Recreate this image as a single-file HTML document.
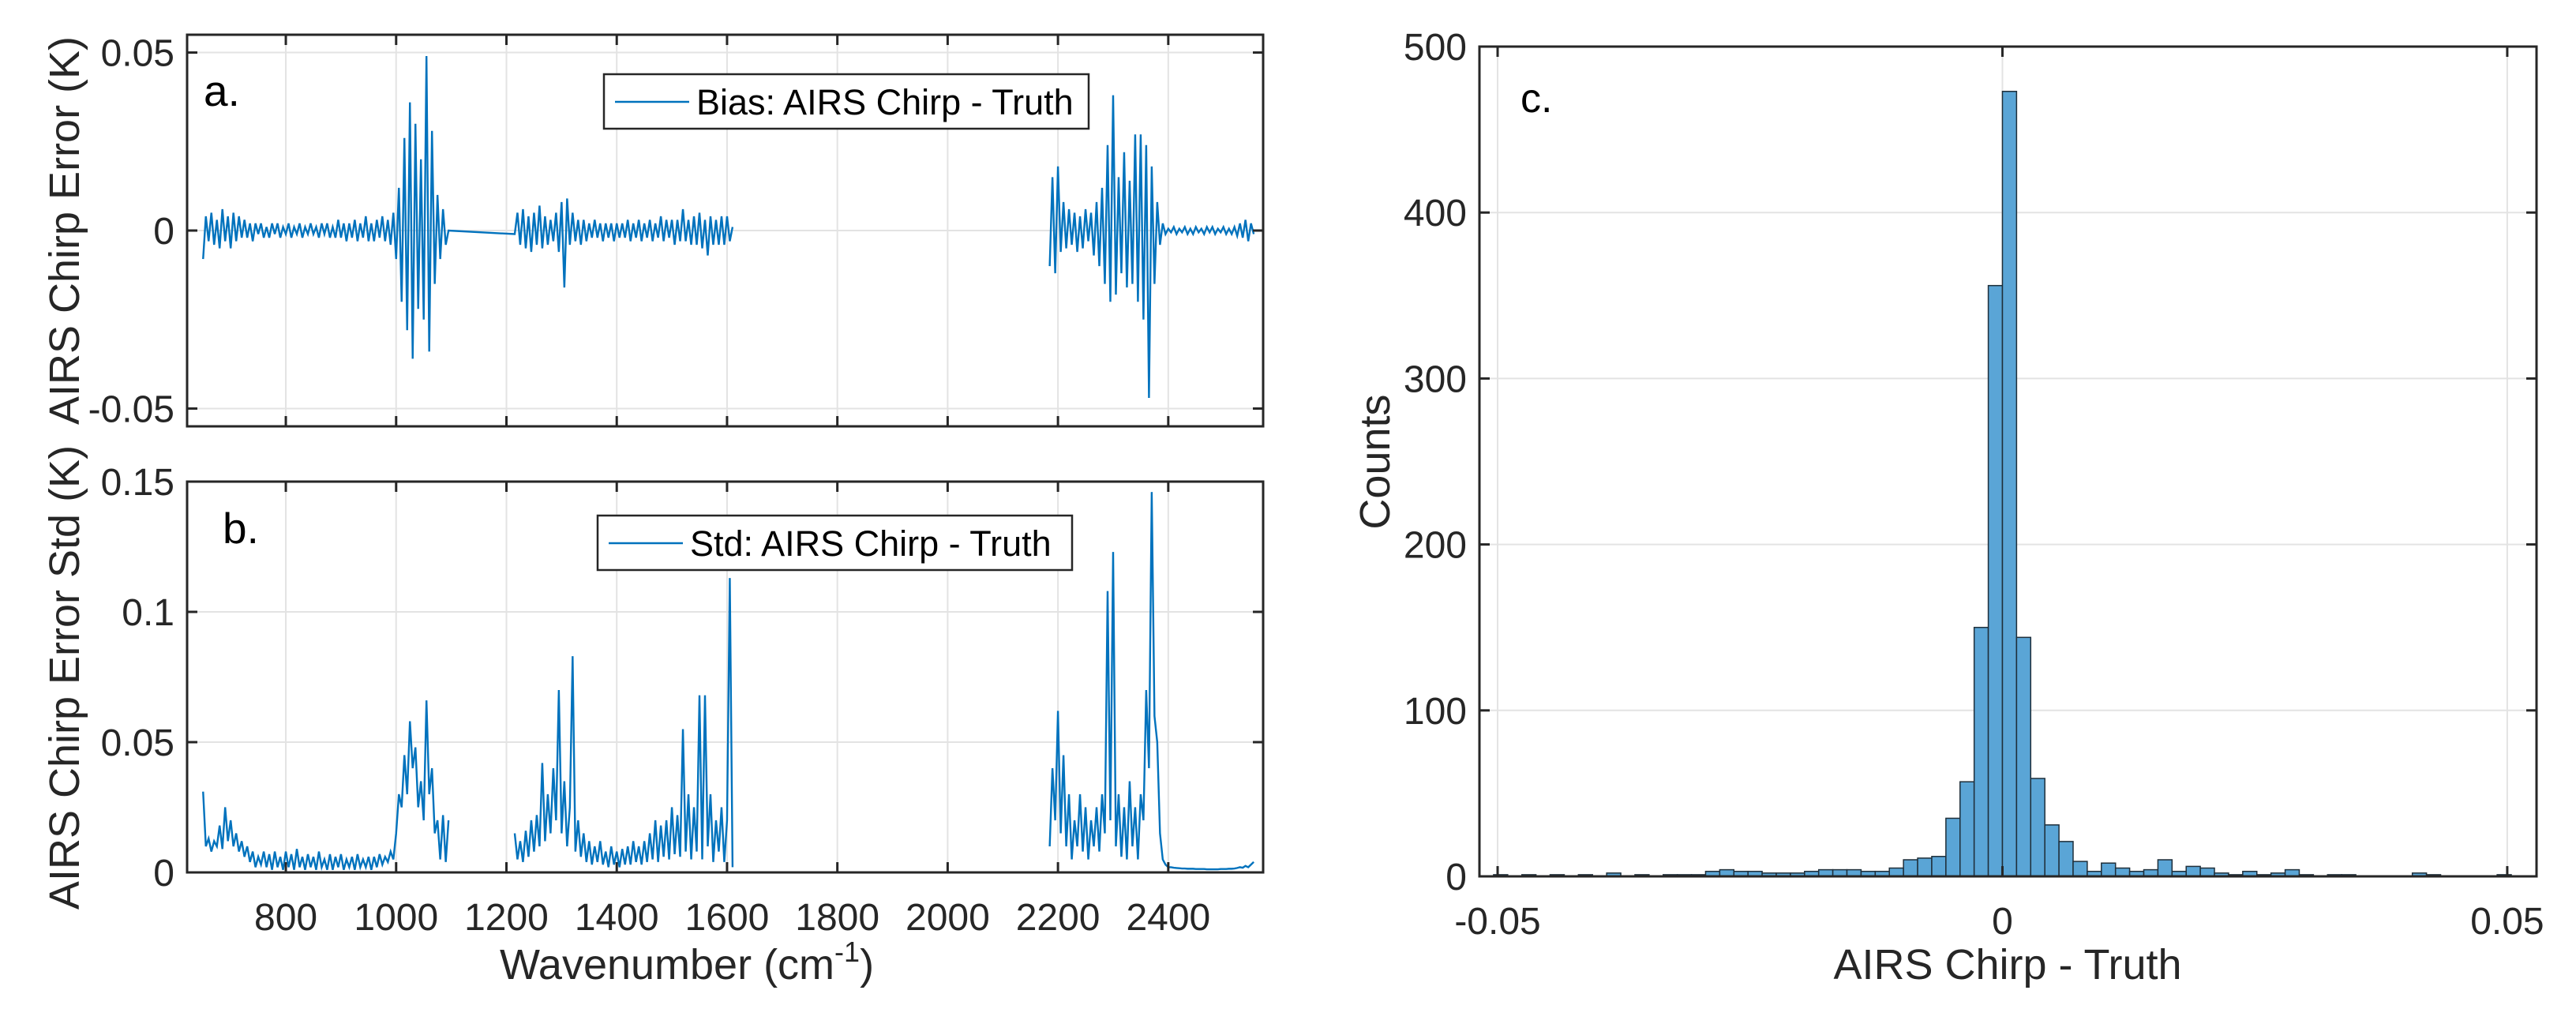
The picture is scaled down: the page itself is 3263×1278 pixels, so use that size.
<!DOCTYPE html>
<html><head><meta charset="utf-8"><style>
html,body{margin:0;padding:0;background:#fff;}
svg{display:block;font-family:"Liberation Sans",Arial,sans-serif;}
</style></head><body>
<svg id="fig" width="3263" height="1278" viewBox="0 0 3263 1278" xmlns="http://www.w3.org/2000/svg"></svg>
<script>
// ---------- DATA ----------
const wnStart1 = 650, wnStart2 = 1215, wnStart3 = 2185, wnStep = 5;
const bias1 = [-0.008,0.004,-0.003,0.005,-0.004,0.003,-0.005,0.006,-0.003,0.004,-0.005,0.005,-0.003,0.004,-0.002,0.003,-0.002,0.002,-0.003,0.002,-0.001,0.002,-0.002,0.001,-0.002,0.002,-0.001,0.002,-0.002,0.001,-0.001,0.002,-0.002,0.001,-0.001,0.002,-0.002,0.001,-0.001,0.002,-0.001,0.001,-0.002,0.002,-0.001,0.002,-0.002,0.001,-0.002,0.003,-0.002,0.002,-0.003,0.002,-0.002,0.003,-0.003,0.002,-0.002,0.004,-0.003,0.002,-0.003,0.003,-0.002,0.004,-0.003,0.003,-0.004,0.005,-0.008,0.012,-0.02,0.026,-0.028,0.036,-0.036,0.03,-0.022,0.02,-0.025,0.049,-0.034,0.028,-0.015,0.01,-0.008,0.006,-0.004,0.0];
const bias2 = [-0.001,0.005,-0.004,0.006,-0.005,0.004,-0.006,0.005,-0.004,0.007,-0.005,0.004,-0.004,0.003,-0.003,0.005,-0.006,0.008,-0.016,0.009,-0.004,0.005,-0.003,0.003,-0.004,0.003,-0.003,0.002,-0.002,0.003,-0.002,0.002,-0.003,0.002,-0.002,0.002,-0.003,0.002,-0.002,0.002,-0.002,0.003,-0.003,0.002,-0.002,0.003,-0.003,0.002,-0.002,0.003,-0.003,0.002,-0.002,0.004,-0.003,0.003,-0.002,0.003,-0.004,0.003,-0.003,0.006,-0.003,0.003,-0.004,0.004,-0.004,0.005,-0.005,0.003,-0.007,0.004,-0.004,0.003,-0.004,0.004,-0.004,0.004,-0.003,0.001];
const bias3 = [-0.01,0.015,-0.012,0.018,-0.006,0.008,-0.005,0.006,-0.004,0.005,-0.006,0.004,-0.005,0.006,-0.003,0.005,-0.007,0.008,-0.01,0.012,-0.015,0.024,-0.02,0.038,-0.018,0.015,-0.012,0.022,-0.016,0.014,-0.015,0.027,-0.02,0.027,-0.025,0.024,-0.047,0.018,-0.015,0.008,-0.004,0.002,-0.001,0.0005,-0.0005,0.001,-0.001,0.0005,-0.0005,0.001,-0.001,0.0005,-0.001,0.001,-0.0005,0.0005,-0.001,0.001,-0.0005,0.001,-0.001,0.0005,-0.0005,0.001,-0.001,0.0005,-0.001,0.001,-0.0015,0.002,-0.002,0.003,-0.003,0.002,-0.001];
const std1 = [0.031,0.01,0.013,0.008,0.012,0.01,0.018,0.009,0.025,0.012,0.02,0.01,0.015,0.008,0.012,0.006,0.01,0.004,0.008,0.002,0.006,0.003,0.008,0.002,0.007,0.001,0.008,0.002,0.006,0.001,0.008,0.002,0.007,0.001,0.009,0.002,0.006,0.001,0.007,0.002,0.006,0.001,0.008,0.002,0.005,0.001,0.007,0.001,0.006,0.002,0.007,0.001,0.005,0.002,0.006,0.001,0.007,0.002,0.005,0.002,0.006,0.001,0.006,0.002,0.007,0.003,0.006,0.004,0.008,0.005,0.015,0.03,0.025,0.045,0.03,0.058,0.04,0.048,0.025,0.035,0.02,0.066,0.03,0.04,0.015,0.02,0.005,0.022,0.004,0.02];
const std2 = [0.015,0.005,0.012,0.004,0.016,0.006,0.02,0.008,0.022,0.01,0.042,0.012,0.03,0.015,0.04,0.02,0.07,0.015,0.035,0.01,0.025,0.083,0.008,0.02,0.006,0.015,0.004,0.012,0.003,0.01,0.004,0.012,0.003,0.008,0.002,0.01,0.003,0.008,0.002,0.009,0.003,0.01,0.003,0.012,0.004,0.01,0.003,0.012,0.004,0.015,0.005,0.02,0.004,0.018,0.006,0.02,0.005,0.025,0.007,0.022,0.006,0.055,0.008,0.03,0.005,0.025,0.008,0.068,0.005,0.068,0.01,0.03,0.004,0.02,0.008,0.025,0.004,0.02,0.113,0.002];
const std3 = [0.01,0.04,0.02,0.062,0.015,0.045,0.01,0.03,0.005,0.02,0.01,0.03,0.008,0.025,0.005,0.02,0.01,0.025,0.008,0.03,0.015,0.108,0.02,0.123,0.01,0.03,0.006,0.025,0.005,0.035,0.01,0.025,0.005,0.03,0.02,0.07,0.04,0.146,0.06,0.05,0.015,0.005,0.003,0.002,0.002,0.0018,0.0017,0.0016,0.0015,0.0015,0.0014,0.0014,0.0014,0.0013,0.0013,0.0013,0.0013,0.0012,0.0012,0.0012,0.0012,0.0012,0.0013,0.0013,0.0013,0.0014,0.0014,0.0015,0.0017,0.002,0.0018,0.0025,0.002,0.003,0.004];
const histStart = -0.0504, histBinWidth = 0.0014;
const histCounts = [1,0,1,0,1,0,1,0,2,0,1,0,1,1,1,3,4,3,3,2,2,2,3,4,4,4,3,3,5,10,11,12,35,57,150,356,473,144,59,31,21,9,3,8,5,3,4,10,3,6,5,2,1,3,1,2,4,1,0,1,1,0,0,0,0,2,1,0,0,0,0,1];
const xTicksAB = [800,1000,1200,1400,1600,1800,2000,2200,2400];
const yTicksA = [-0.05,0,0.05], yTickLabelsA = ["-0.05","0","0.05"];
const yTicksB = [0,0.05,0.1,0.15], yTickLabelsB = ["0","0.05","0.1","0.15"];
const xTicksC = [-0.05,0,0.05], xTickLabelsC = ["-0.05","0","0.05"];
const yTicksC = [0,100,200,300,400,500];

// ---------- HELPERS ----------
const NS = "http://www.w3.org/2000/svg";
const svg = document.getElementById('fig');
function mk(tag, attrs, parent){ const e=document.createElementNS(NS,tag); for(const k in attrs) e.setAttribute(k,attrs[k]); (parent||svg).appendChild(e); return e; }
function lin(d0,d1,r0,r1){ return v => r0 + (v-d0)/(d1-d0)*(r1-r0); }
const AX='#262626', GRID='#e3e3e3', LINE='#0072BD';

function axesFrame(name, L,T,R,B, xs, ys, xt, xtl, yt, ytl, showXLabels){
  const g = mk('g',{});
  
  
  xt.forEach(v=>{ const x=xs(v);
    const gl=mk('line',{x1:x,x2:x,y1:T,y2:B,stroke:GRID,'stroke-width':2},g);
      });
  yt.forEach(v=>{ const y=ys(v);
    const gl=mk('line',{x1:L,x2:R,y1:y,y2:y,stroke:GRID,'stroke-width':2},g);
      });
  return g;
}
function axesBorder(g, L,T,R,B, xs, ys, xt, xtl, yt, ytl, showXLabels){
  const r=mk('rect',{x:L,y:T,width:R-L,height:B-T,fill:'none',stroke:AX,'stroke-width':3},g);
   
  const tl=13;
  xt.forEach((v,i)=>{ const x=xs(v);
    mk('line',{x1:x,x2:x,y1:B,y2:B-tl,stroke:AX,'stroke-width':3},g);
    mk('line',{x1:x,x2:x,y1:T,y2:T+tl,stroke:AX,'stroke-width':3},g);
    if(showXLabels){ const t=mk('text',{x:x,y:B+73,'text-anchor':'middle','font-size':48,fill:AX},g); t.textContent=xtl[i];
        }
  });
  yt.forEach((v,i)=>{ const y=ys(v);
    mk('line',{x1:L,x2:L+tl,y1:y,y2:y,stroke:AX,'stroke-width':3},g);
    mk('line',{x1:R,x2:R-tl,y1:y,y2:y,stroke:AX,'stroke-width':3},g);
    const t=mk('text',{x:L-16,y:y+17,'text-anchor':'end','font-size':48,fill:AX},g); t.textContent=ytl[i];
     
  });
}
function label(txt,x,y,size,name,rot,anchor){
  const t=mk('text',{x:x,y:y,'font-size':size,fill:rot===undefined&&name.indexOf('panel')===0?'#000':AX,'text-anchor':anchor||'middle'});
  if(rot!==undefined) t.setAttribute('transform','rotate('+rot+' '+x+' '+y+')');
  t.textContent=txt;
  
  
  return t;
}
function seriesPath(g, start, vals, xs, ys){
  let d='';
  vals.forEach((v,i)=>{ d+=(i?'L':'M')+xs(start+i*wnStep).toFixed(2)+' '+ys(v).toFixed(2); });
  return d;
}

// ---------- PANEL A ----------
const aL=237,aR=1600,aT=44,aB=540;
const xa=lin(621,2572,aL,aR), ya=lin(-0.055,0.055,aB,aT);
const gA=axesFrame('bias-axes',aL,aT,aR,aB,xa,ya,xTicksAB,xTicksAB.map(String),yTicksA,yTickLabelsA,false);
let dA = seriesPath(gA,wnStart1,bias1,xa,ya);
dA += seriesPath(gA,wnStart2,bias2,xa,ya).replace('M','L');
const pA=mk('path',{d:dA,fill:'none',stroke:LINE,'stroke-width':2.4},gA);
 
const pA3=mk('path',{d:seriesPath(gA,wnStart3,bias3,xa,ya),fill:'none',stroke:LINE,'stroke-width':2.4},gA);
 
axesBorder(gA,aL,aT,aR,aB,xa,ya,xTicksAB,xTicksAB.map(String),yTicksA,yTickLabelsA,false);
label('a.',258,134,55,'panel-label-a',undefined,'start');
const legA=mk('rect',{x:765,y:94,width:614,height:69,fill:'#fff',stroke:AX,'stroke-width':2.5});
 
const llA=mk('line',{x1:779,x2:873,y1:129,y2:129,stroke:LINE,'stroke-width':2.5});
 
const ltA=label('Bias: AIRS Chirp - Truth',882,145,45,'legend-bias-text',undefined,'start'); ltA.setAttribute('fill','#000');

// ---------- PANEL B ----------
const bL=237,bR=1600,bT=610,bB=1105;
const xb=lin(621,2572,bL,bR), yb=lin(0,0.15,bB,bT);
const gB=axesFrame('std-axes',bL,bT,bR,bB,xb,yb,xTicksAB,xTicksAB.map(String),yTicksB,yTickLabelsB,true);
[[wnStart1,std1],[wnStart2,std2],[wnStart3,std3]].forEach(s=>{
  const p=mk('path',{d:seriesPath(gB,s[0],s[1],xb,yb),fill:'none',stroke:LINE,'stroke-width':2.4},gB);
   
});
axesBorder(gB,bL,bT,bR,bB,xb,yb,xTicksAB,xTicksAB.map(String),yTicksB,yTickLabelsB,true);
label('b.',282,688,55,'panel-label-b',undefined,'start');
const legB=mk('rect',{x:757,y:653,width:601,height:69,fill:'#fff',stroke:AX,'stroke-width':2.5});
 
const llB=mk('line',{x1:771,x2:865,y1:688,y2:688,stroke:LINE,'stroke-width':2.5});
 
const ltB=label('Std: AIRS Chirp - Truth',874,704,45,'legend-std-text',undefined,'start'); ltB.setAttribute('fill','#000');

label('AIRS Chirp Error (K)',100,292,54,'y-axis-title-bias',-90);
label('AIRS Chirp Error Std (K)',100,858,54,'y-axis-title-std',-90);
const xt=label('Wavenumber (cm',870,1240,54,'x-axis-title-wavenumber');
const sup=mk('tspan',{'font-size':36,dy:-22}); sup.textContent='-1'; xt.appendChild(sup);
const cl=mk('tspan',{dy:22}); cl.textContent=')'; xt.appendChild(cl);

// ---------- PANEL C ----------
const cL=1874,cR=3213,cT=59,cB=1110;
const xc=lin(-0.0518,0.0529,cL,cR), yc=lin(0,500,cB,cT);
const gC=axesFrame('histogram-axes',cL,cT,cR,cB,xc,yc,xTicksC,xTickLabelsC,yTicksC,yTicksC.map(String),true);
histCounts.forEach((c,i)=>{
  if(c<=0) return;
  const x0=xc(histStart+i*histBinWidth), x1=xc(histStart+(i+1)*histBinWidth);
  const b=mk('rect',{x:x0,y:yc(c),width:x1-x0,height:yc(0)-yc(c),fill:'#5aa5d6',stroke:'#1f2f3a','stroke-width':1.5},gC);
   
});
axesBorder(gC,cL,cT,cR,cB,xc,yc,xTicksC,xTickLabelsC,yTicksC,yTicksC.map(String),true);
label('c.',1926,142,52,'panel-label-c',undefined,'start');
label('Counts',1760,585,54,'y-axis-title-counts',-90);
label('AIRS Chirp - Truth',2543,1240,54,'x-axis-title-difference');
</script>
</body></html>
